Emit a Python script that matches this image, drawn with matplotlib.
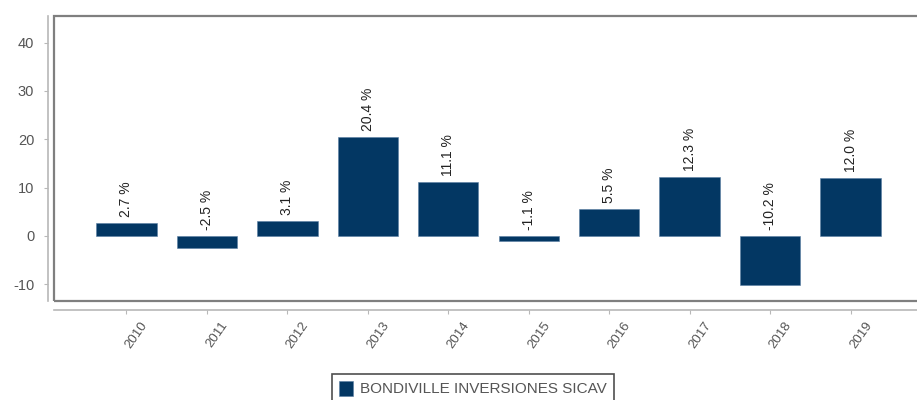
import matplotlib.pyplot as plt
import matplotlib.transforms as mtransforms
from matplotlib.patches import Rectangle

# data
years = ['2010', '2011', '2012', '2013', '2014', '2015', '2016', '2017', '2018', '2019']
returns = [2.7, -2.5, 3.1, 20.4, 11.1, -1.1, 5.5, 12.3, -10.2, 12.0]
series_name = 'BONDIVILLE INVERSIONES SICAV'
yticks = [-10, 0, 10, 20, 30, 40]

plt.rcParams['font.family'] = ['Liberation Sans', 'DejaVu Sans']

bar_color = '#033763'
px = 72 / 100  # points per pixel

fig = plt.figure(figsize=(9.17, 4), dpi=100)
ax = fig.add_axes([54 / 917, 99 / 400, 869 / 917, 285 / 400])

x = list(range(len(years)))
ax.bar(x, returns, width=0.75, color=bar_color, edgecolor='#5a7fa3', linewidth=0.4,
       label=series_name, zorder=2)

for xi, v in zip(x, returns):
    ax.annotate(f'{v:.1f} %', xy=(xi, max(v, 0)), xytext=(0, 6 * px),
                textcoords='offset points', rotation=90, ha='center', va='bottom',
                fontsize=10, color='#222222')

ax.set_xlim(-0.9, 9.9)
ax.set_ylim(-13.45, 45.5)

# box around the plotting area
ax.add_patch(Rectangle((0, 0), 1, 1, transform=ax.transAxes, fill=False,
                       edgecolor='#7f7f7f', linewidth=1.6, clip_on=False, zorder=3))

for s in ['top', 'right']:
    ax.spines[s].set_visible(False)
ax.spines['left'].set_position(('outward', 6 * px))
ax.spines['bottom'].set_position(('outward', 9 * px))
ax.spines['left'].set_color('#b8b8b8')
ax.spines['bottom'].set_color('#b8b8b8')
ax.spines['left'].set_linewidth(1.2)
ax.spines['bottom'].set_linewidth(1.2)

ax.set_yticks(yticks)
ax.set_yticklabels([str(t) for t in yticks])
ax.set_xticks(x)
ax.set_xticklabels(years, rotation=55, ha='right', va='top', rotation_mode='anchor')
ax.tick_params(axis='y', length=4 * px, color='#b8b8b8', labelsize=10.5,
               labelcolor='#555555', pad=7)
ax.tick_params(axis='x', length=4 * px, color='#b8b8b8', labelsize=9.5,
               labelcolor='#555555', pad=4)
shift = mtransforms.ScaledTranslation(14 / 100, 0, fig.dpi_scale_trans)
for lbl in ax.get_xticklabels():
    lbl.set_transform(lbl.get_transform() + shift)

leg = fig.legend(loc='upper center', bbox_to_anchor=(473 / 917, 1 - 374 / 400),
                 frameon=True, fancybox=False, fontsize=11, handlelength=0.9,
                 handleheight=1.1, handletextpad=0.5, borderpad=0.45,
                 borderaxespad=0)
leg.get_frame().set_edgecolor('#222222')
leg.get_frame().set_linewidth(1.2)
for t in leg.get_texts():
    t.set_color('#555555')

fig.savefig('out.png', dpi=100)
